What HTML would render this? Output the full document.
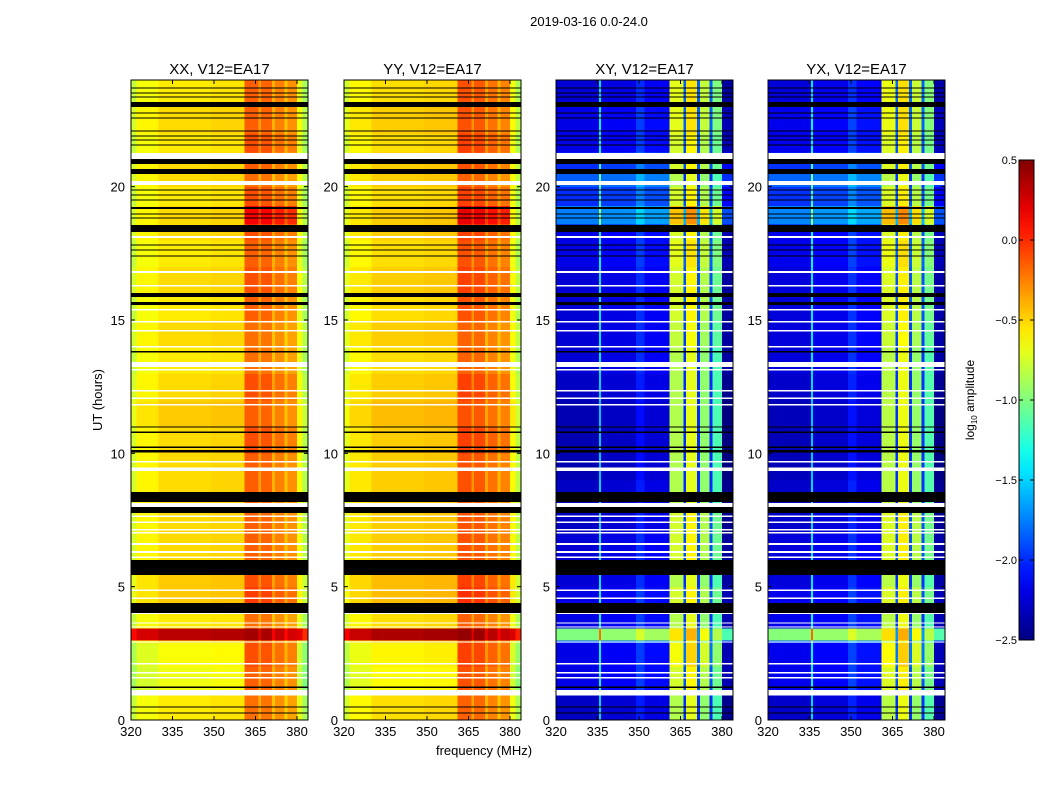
<!DOCTYPE html>
<html><head><meta charset="utf-8">
<style>
html,body{margin:0;padding:0;background:#fff;}
svg{display:block;font-family:"Liberation Sans",sans-serif;}
</style></head>
<body>
<svg id="fig" width="1050" height="800" viewBox="0 0 1050 800" xmlns="http://www.w3.org/2000/svg">
<text x="589" y="26" font-size="13" text-anchor="middle">2019-03-16 0.0-24.0</text>
<text x="484" y="755" font-size="13" text-anchor="middle">frequency (MHz)</text>
<text x="102" y="400" font-size="13" text-anchor="middle" transform="rotate(-90 102 400)">UT (hours)</text>
<g id="panels"></g>
<g id="cbar"></g>
</svg>
<script>
// ---- data ----
const panelTitles = ["XX, V12=EA17","YY, V12=EA17","XY, V12=EA17","YX, V12=EA17"];
const panelKind = [0,0,1,1]; // 0 parallel, 1 cross
const panelOffset = [0,0.04,0,0.02];
const freqEdges = [320,322,330,335.5,336.2,349,352,361,366,367,371,372,375.5,376.5,380,382,384];
const freqRegion = [0,0,0,0,0,0,0,1,1,1,1,1,1,1,0,0];
const specPar   = [-0.75,-0.6,-0.52,-0.52,-0.52,-0.5,-0.5,-0.2,-0.4,-0.22,-0.45,-0.3,-0.5,-0.35,-0.65,-0.85];
const specCross = [-2.3,-2.3,-2.3,-1.5,-2.25,-2.05,-2.2,-0.85,-2.0,-0.7,-2.0,-0.95,-2.0,-1.15,-2.45,-2.45];
const timeEdges = [0,1,2,2.9,3.0,3.45,4,5,6,7,8,9,10,11,12,13,14,15,16,17,18,18.6,19.3,20,20.5,21.3,22,23,24];
const offParLeft    = [-0.05,-0.15,-0.12,0,0.85,-0.05,0.05,0.05,0,0,0,0,0,0.05,0,-0.05,0,-0.05,0,-0.05,0,0,-0.05,0,0,-0.05,0,-0.05];
const offParStripe  = [0,0.05,0.1,0,0.6,0,0.15,0.1,0.05,0.05,0.05,0.05,0.1,0.05,0.1,0,0,0.05,0.1,0.05,0.1,0.35,0.1,0,0.05,0.1,0.05,0.05];
const offCrossLeft  = [0,0.1,0.1,0.4,1.3,0.1,0.1,0.05,0.05,0,0,-0.05,-0.05,-0.05,0,0.05,0.05,0.05,0.05,0.1,0.1,0.55,0.3,0.45,0.3,0.1,0.1,0.05];
const offCrossStripe= [0,0.1,0.2,0,0.3,0,0.1,0,0.1,0.1,0,0,0,0,0,0,0.05,0.1,0.1,0.15,0.1,0.4,0.1,0,0.1,0.1,0.15,0.15];
const blackRows = [[22.99,23.17],[20.85,21.04],[20.47,20.66],[19.16,19.24],[18.3,18.56],[15.86,16.01],[15.56,15.67],[13.78,13.84],[10.96,11.0],[10.77,10.81],[10.2,10.26],[10.04,10.12],[8.18,8.55],[7.76,7.99],[5.44,6.0],[4.01,4.39],[1.2,1.26],[0.46,0.5],[0.24,0.28],
  [23.68,23.72],[23.49,23.53],[23.34,23.38],[22.74,22.78],[22.55,22.59],[22.07,22.11],[21.88,21.92],[21.73,21.77],[21.54,21.58],[19.85,19.89],[19.67,19.71],[19.48,19.52],[18.95,18.99],[18.8,18.84],[17.79,17.83],[17.6,17.64],[17.38,17.42]];
const whiteRows = [[21.04,21.26],[20.06,20.21],[18.07,18.15],[16.77,16.83],[16.25,16.31],[15.35,15.41],[14.9,14.96],[14.56,14.62],[13.96,14.02],[13.24,13.42],[13.1,13.16],[12.31,12.37],[12.04,12.1],[11.79,11.85],[9.65,9.71],[9.34,9.47],[7.99,8.14],[7.61,7.67],[7.39,7.45],[7.1,7.16],[6.99,7.05],[6.57,6.63],[6.27,6.33],[6.08,6.14],[4.84,4.9],[4.54,4.6],[3.98,4.03],[3.61,3.66],[3.46,3.51],[2.9,2.95],[2.08,2.14],[1.74,1.8],[1.55,1.61],[0.92,1.12]];
const xTicks = [320,335,350,365,380];
const yTicks = [0,5,10,15,20];
const cbTicks = [0.5,0.0,-0.5,-1.0,-1.5,-2.0,-2.5];

// ---- layout ----
const panelX = [131,344,556,768], PW=177, PT=80, PB=720;
const VMIN=-2.5, VMAX=0.5;
const NS="http://www.w3.org/2000/svg";
function xs(f,x0){return x0+(f-320)*(166/60);}
function ys(t){return PB-t*(PB-PT)/24;}
function jet(v){
  let t=(v-VMIN)/(VMAX-VMIN); t=Math.max(0,Math.min(1,t));
  const c=x=>Math.max(0,Math.min(1,x));
  const r=c(1.5-Math.abs(4*t-3)), g=c(1.5-Math.abs(4*t-2)), b=c(1.5-Math.abs(4*t-1));
  return `rgb(${Math.round(r*255)},${Math.round(g*255)},${Math.round(b*255)})`;
}
function mk(tag,attrs,parent){const e=document.createElementNS(NS,tag);for(const k in attrs)e.setAttribute(k,attrs[k]);parent.appendChild(e);return e;}
const root=document.getElementById('panels');
panelTitles.forEach((title,p)=>{
  const x0=panelX[p];
  const g=mk('g',{'shape-rendering':'crispEdges'},root);
  
  
  const spec = panelKind[p]?specCross:specPar;
  const oL = panelKind[p]?offCrossLeft:offParLeft;
  const oS = panelKind[p]?offCrossStripe:offParStripe;
  for(let i=0;i<timeEdges.length-1;i++){
    for(let j=0;j<freqEdges.length-1;j++){
      const v=spec[j]+(freqRegion[j]?oS[i]:oL[i])+panelOffset[p];
      const xa=xs(freqEdges[j],x0), xb=Math.min(xs(freqEdges[j+1],x0),x0+PW);
      const ya=ys(timeEdges[i+1]), yb=ys(timeEdges[i]);
      const r=mk('rect',{x:xa,y:ya,width:xb-xa+0.5,height:yb-ya+0.5,fill:jet(v)},g);
      
      
    }
  }
  whiteRows.forEach(w=>{
    const r=mk('rect',{x:x0,y:ys(w[1]),width:PW,height:ys(w[0])-ys(w[1]),fill:'#fff'},g);
    
    
  });
  blackRows.forEach(w=>{
    const r=mk('rect',{x:x0,y:ys(w[1]),width:PW,height:Math.max(1,ys(w[0])-ys(w[1])),fill:'#000'},g);
    
    
  });
  const fr=mk('rect',{x:x0,y:PT,width:PW,height:PB-PT,fill:'none',stroke:'#000','stroke-width':1},g);
  
  
  const tt=mk('text',{x:x0+PW/2,y:PT-6,'font-size':15,'text-anchor':'middle'},root);
  tt.textContent=title;
  
  
  xTicks.forEach(f=>{
    const x=xs(f,x0);
    mk('line',{x1:x,x2:x,y1:PB,y2:PB-4,stroke:'#000'},root);
    mk('line',{x1:x,x2:x,y1:PT,y2:PT+4,stroke:'#000'},root);
    const t=mk('text',{x:x,y:PB+16,'font-size':13,'text-anchor':'middle'},root);
    t.textContent=f;
    
    
  });
  yTicks.forEach(v=>{
    const y=ys(v);
    mk('line',{x1:x0,x2:x0+4,y1:y,y2:y,stroke:'#000'},root);
    mk('line',{x1:x0+PW,x2:x0+PW-4,y1:y,y2:y,stroke:'#000'},root);
    const t=mk('text',{x:x0-6,y:y+5,'font-size':13,'text-anchor':'end'},root);
    t.textContent=v;
    
    
  });
});
// colorbar
const cb=document.getElementById('cbar');
const CX=1019,CW=15,CT=160,CB=640;
const defs=mk('defs',{},cb);
const lg=mk('linearGradient',{id:'jetg',x1:0,y1:1,x2:0,y2:0},defs);
for(let i=0;i<=20;i++){mk('stop',{offset:i/20,'stop-color':jet(VMIN+i/20*(VMAX-VMIN))},lg);}
const cr=mk('rect',{x:CX,y:CT,width:CW,height:CB-CT,fill:'url(#jetg)',stroke:'#000','stroke-width':1},cb);


cbTicks.forEach(v=>{
  const y=CB-(v-VMIN)/(VMAX-VMIN)*(CB-CT);
  mk('line',{x1:CX,x2:CX+4,y1:y,y2:y,stroke:'#000'},cb);
  mk('line',{x1:CX+CW,x2:CX+CW-4,y1:y,y2:y,stroke:'#000'},cb);
  const t=mk('text',{x:CX-2,y:y+4,'font-size':11,'text-anchor':'end'},cb);
  t.textContent=v.toFixed(1).replace('-','\u2212');
  
  
});
const cl=mk('text',{x:974,y:400,'font-size':12,'text-anchor':'middle',transform:'rotate(-90 974 400)'},cb);
cl.innerHTML='log<tspan font-size="8" dy="3">10</tspan><tspan dy="-3"> amplitude</tspan>';


</script>
</body></html>
